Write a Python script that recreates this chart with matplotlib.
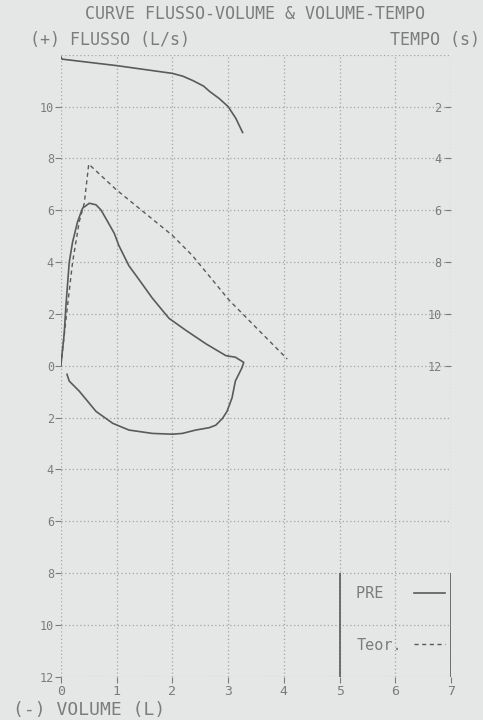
import matplotlib
matplotlib.use('Agg')
from matplotlib import pyplot as plt

# flow-volume loop, PRE (expiration then inspiration)
vol_pre = [0.0, 0.06, 0.09, 0.15, 0.21, 0.30, 0.39, 0.51, 0.63, 0.72, 0.84, 0.96,
           1.04, 1.22, 1.40, 1.64, 1.94, 2.24, 2.60, 2.96, 3.13, 3.28,
           3.25, 3.13, 3.07, 2.98, 2.90, 2.78, 2.66, 2.42, 2.18, 2.00, 1.64,
           1.22, 0.93, 0.63, 0.33, 0.15, 0.11]
flow_pre = [0.0, 1.24, 2.29, 3.99, 4.77, 5.56, 6.08, 6.27, 6.21, 6.01, 5.56, 5.10,
            4.64, 3.86, 3.33, 2.61, 1.83, 1.37, 0.85, 0.39, 0.33, 0.13,
            -0.07, -0.59, -1.24, -1.76, -2.03, -2.29, -2.39, -2.48, -2.61, -2.64, -2.61,
            -2.48, -2.22, -1.76, -0.98, -0.59, -0.33]

# predicted (Teor.)
vol_teor = [0.0, 0.03, 0.09, 0.21, 0.33, 0.42, 0.50, 0.99, 2.00, 2.36, 3.01, 3.49, 4.06]
flow_teor = [0.0, 0.59, 1.76, 3.99, 5.56, 6.27, 7.78, 6.80, 5.03, 4.25, 2.55, 1.50, 0.26]

# volume-time curve
vol_vt = [0.0, 0.02, 1.0, 2.0, 2.19, 2.37, 2.56, 2.67, 2.84, 3.0, 3.14, 3.26]
time_vt = [0.08, 0.17, 0.42, 0.72, 0.83, 1.0, 1.21, 1.42, 1.69, 2.0, 2.46, 3.0]

flow_ticks = [-12, -10, -8, -6, -4, -2, 0, 2, 4, 6, 8, 10]
time_ticks = [2, 4, 6, 8, 10, 12]
vol_ticks = [0, 1, 2, 3, 4, 5, 6, 7]

bg = '#e5e7e6'
txt = '#7c7c7c'
ink = '#5a5a5a'
grid = '#a4a4a4'
mono = 'DejaVu Sans Mono'

fig = plt.figure(figsize=(4.83, 7.2), dpi=100, facecolor=bg)
ax = fig.add_axes([0.126, 0.060, 0.808, 0.864], facecolor=bg)

ax.set_xlim(0, 7)
ax.set_ylim(-12, 12)
ax.set_xticks(vol_ticks)
ax.set_xticklabels([str(v) for v in vol_ticks], fontsize=9.5, family=mono, color=txt)
ax.set_yticks(flow_ticks)
ax.set_yticklabels([str(abs(f)) for f in flow_ticks], fontsize=8.5, family=mono, color=txt)
ax.tick_params(axis='both', colors=txt, length=4, width=0.8)
ax.tick_params(axis='y', pad=1)
ax.tick_params(axis='x', pad=2)

for v in vol_ticks:
    ax.axvline(v, color=grid, lw=0.9, ls=(0, (1, 2)), zorder=1)
for f in flow_ticks + [12]:
    ax.axhline(f, color=grid, lw=0.9, ls=(0, (1, 2)), zorder=1)
for s in ax.spines.values():
    s.set_visible(False)

ax.plot(vol_pre, flow_pre, color=ink, lw=1.2, label='PRE\u00a0\u00a0', zorder=3)
ax.plot(vol_teor, flow_teor, color=ink, lw=1.0, ls=(0, (3, 2.5)), label='Teor.', zorder=3)

# legend box with solid sides
ax.vlines([5, 7], -12, -8, color=ink, lw=1.2, zorder=3)
leg = ax.legend(loc='upper left', bbox_to_anchor=(5.3, -8.5), bbox_transform=ax.transData,
                frameon=False, markerfirst=False, handlelength=2.0, labelspacing=2.4,
                borderpad=0, borderaxespad=0, handletextpad=0.8,
                prop={'family': mono, 'size': 11}, labelcolor=txt)

ax2 = ax.twinx()
ax2.set_ylim(24, 0)
ax2.set_yticks(time_ticks)
ax2.set_yticklabels([str(t) for t in time_ticks], fontsize=8.5, family=mono, color=txt)
ax2.tick_params(axis='y', direction='in', length=4, width=0.8, colors=txt, pad=-7)
for lbl in ax2.get_yticklabels():
    lbl.set_horizontalalignment('right')
for s in ax2.spines.values():
    s.set_visible(False)
ax2.plot(vol_vt, time_vt, color=ink, lw=1.2)

fig.text(0.528, 0.981, 'CURVE FLUSSO-VOLUME & VOLUME-TEMPO', ha='center', va='center',
         fontsize=12, family=mono, color=txt)
fig.text(0.062, 0.944, '(+) FLUSSO (L/s)', ha='left', va='center',
         fontsize=12, family=mono, color=txt)
fig.text(0.994, 0.944, 'TEMPO (s)', ha='right', va='center',
         fontsize=12, family=mono, color=txt)
fig.text(0.027, 0.014, '(-) VOLUME (L)', ha='left', va='center',
         fontsize=13, family=mono, color=txt)

fig.savefig('out.png', dpi=100, facecolor=bg)
